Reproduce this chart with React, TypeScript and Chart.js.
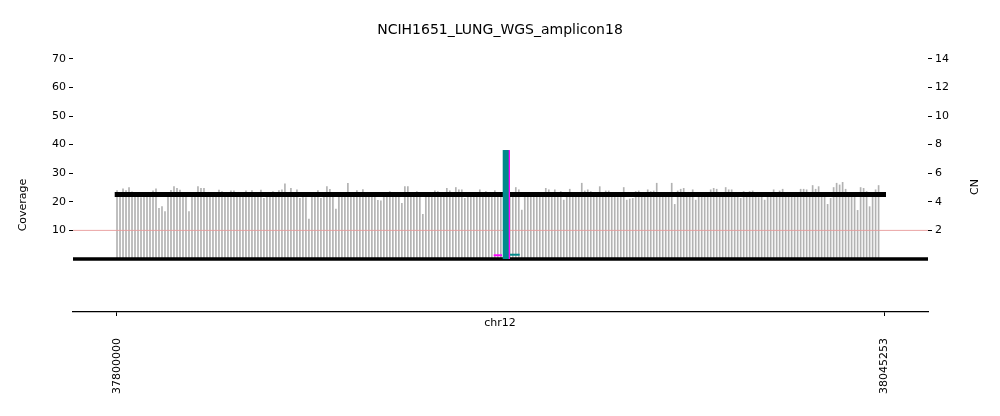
import { useEffect, useRef } from 'react';
import { Chart, registerables } from 'chart.js';

Chart.register(...registerables);

const TITLE = 'NCIH1651_LUNG_WGS_amplicon18';
const CHROM = 'chr12';
const Y_LABEL = 'Coverage';
const Y2_LABEL = 'CN';

const X_MIN = 37786037;
const X_MAX = 38059216;
const X_TICKS = [37800000, 38045253];
const COV_TICKS = [10, 20, 30, 40, 50, 60, 70];
const CN_TICKS = [2, 4, 6, 8, 10, 12, 14];
const COV_MIN = -18.53;
const COV_MAX = 73.43;
const CN_MIN = -3.706;
const CN_MAX = 14.686;

const BIN_START = 37800100;
const BIN_SIZE = 958;
const COVERAGE = [
  23.9, 22.8, 24.5, 23.9, 25.0, 23.5, 22.6, 22.9, 21.5, 22.4,
  22.7, 22.5, 23.8, 24.5, 17.7, 18.3, 16.6, 22.8, 24.0, 25.3,
  24.7, 24.1, 22.6, 22.5, 16.6, 21.9, 22.7, 25.3, 24.7, 24.7,
  22.4, 22.9, 22.6, 22.3, 24.1, 23.6, 22.8, 22.5, 23.8, 23.8,
  22.6, 22.9, 22.4, 23.8, 22.7, 23.9, 22.6, 22.8, 24.1, 21.2,
  22.8, 22.7, 23.6, 22.6, 23.9, 24.2, 26.3, 22.5, 24.7, 22.8,
  24.2, 21.2, 22.7, 21.5, 14.0, 22.6, 22.9, 23.9, 21.2, 22.4,
  25.3, 24.4, 22.7, 17.5, 22.6, 22.9, 22.5, 26.5, 22.8, 22.4,
  23.9, 22.6, 24.3, 22.5, 22.7, 22.4, 22.8, 20.5, 20.3, 22.7,
  22.5, 23.6, 22.8, 22.4, 22.6, 19.5, 25.3, 25.3, 22.6, 22.9,
  23.6, 22.7, 15.6, 21.8, 22.6, 22.9, 23.8, 23.6, 22.5, 22.8,
  24.7, 23.8, 22.4, 25.0, 24.2, 24.2, 21.2, 22.7, 22.9, 21.8,
  22.5, 24.2, 22.6, 23.6, 22.8, 22.4, 23.9, 22.7, 22.5, 22.6,
  22.8, 22.5, 22.9, 25.0, 24.2, 17.1, 22.6, 22.8, 22.4, 22.7,
  22.9, 22.5, 22.6, 24.7, 24.2, 22.8, 24.2, 22.5, 23.6, 20.6,
  22.7, 24.4, 22.6, 22.9, 22.5, 26.5, 23.8, 24.2, 23.6, 22.7,
  22.4, 25.3, 22.8, 23.8, 23.8, 22.6, 22.9, 21.5, 22.5, 25.0,
  20.6, 21.0, 21.2, 23.6, 23.8, 22.7, 22.4, 24.2, 23.6, 23.8,
  26.5, 22.6, 22.8, 22.5, 22.9, 26.5, 19.1, 23.8, 24.4, 24.7,
  22.6, 22.8, 24.2, 20.6, 22.4, 22.7, 22.9, 22.5, 24.2, 24.7,
  24.4, 22.6, 22.8, 25.0, 24.2, 24.2, 22.5, 22.9, 21.2, 23.6,
  22.7, 23.6, 23.8, 22.4, 21.5, 22.8, 20.6, 22.6, 22.9, 24.2,
  22.5, 23.8, 24.4, 22.7, 22.4, 22.8, 22.6, 22.9, 24.4, 24.4,
  24.2, 22.5, 25.7, 24.4, 25.3, 22.7, 22.8, 19.1, 21.2, 25.0,
  26.5, 25.9, 26.8, 24.4, 22.6, 22.9, 22.5, 17.0, 25.0, 24.7,
  23.6, 18.3, 22.7, 24.2, 25.7,
];

const CN_SEG_X = [37799361, 38045795];
const CN_SEG_VALUE = 4.51;
const CN_REF = 2;
const CN_ZERO = 0;

const AMP_X = 37924289;
const AMP_COV = 38.1;
const AMP2_X = 37924700;
const MAGENTA_SEG_X = [37920455, 37923107];
const MAGENTA_SEG_COV = 1.3;
const TEAL_SEG_X = [37925347, 37928765];
const TEAL_SEG_COV = 1.5;

const FONT = '"DejaVu Sans", sans-serif';

const textPlugin = {
  id: 'axisTexts',
  afterDraw(chart: any) {
    const ctx = chart.ctx;
    ctx.save();
    ctx.fillStyle = '#000';
    ctx.font = `11px ${FONT}`;
    ctx.textAlign = 'center';
    ctx.textBaseline = 'middle';
    ctx.fillText(CHROM, 500, 323);
    ctx.translate(23, 205);
    ctx.rotate(-Math.PI / 2);
    ctx.fillText(Y_LABEL, 0, 0);
    ctx.restore();
    ctx.save();
    ctx.fillStyle = '#000';
    ctx.font = `11px ${FONT}`;
    ctx.textAlign = 'center';
    ctx.textBaseline = 'middle';
    ctx.translate(975, 187);
    ctx.rotate(-Math.PI / 2);
    ctx.fillText(Y2_LABEL, 0, 0);
    ctx.restore();
  },
};

function seg(xs: number[], y: number) {
  return [{ x: xs[0], y }, { x: xs[1], y }];
}

export default function App() {
  const ref = useRef<HTMLCanvasElement | null>(null);
  useEffect(() => {
    document.body.style.margin = '0';
    const canvas = ref.current!;
    const bars = COVERAGE.map((v, i) => ({ x: BIN_START + i * BIN_SIZE, y: v }));
    const lineBase = {
      type: 'line' as const,
      pointRadius: 0,
      tension: 0,
      borderCapStyle: 'butt' as const,
      fill: false,
    };
    const chart = new Chart(canvas, {
      type: 'bar',
      data: {
        datasets: [
          {
            type: 'bar',
            data: bars,
            backgroundColor: '#b2b2b2',
            barThickness: 1,
            yAxisID: 'y',
            order: 10,
          } as any,
          { ...lineBase, data: seg([X_MIN, X_MAX], CN_REF), borderColor: '#e69a9a', borderWidth: 0.9, yAxisID: 'y2', order: 8 },
          { ...lineBase, data: seg(CN_SEG_X, CN_SEG_VALUE), borderColor: '#000', borderWidth: 5, yAxisID: 'y2', order: 7 },
          { ...lineBase, data: seg([X_MIN, X_MAX], CN_ZERO), borderColor: '#000', borderWidth: 3.5, yAxisID: 'y2', order: 6 },
          { ...lineBase, data: seg(MAGENTA_SEG_X, MAGENTA_SEG_COV), borderColor: '#ff00ff', borderWidth: 2, yAxisID: 'y', order: 3 },
          { ...lineBase, data: seg(TEAL_SEG_X, TEAL_SEG_COV), borderColor: '#008b8b', borderWidth: 2, yAxisID: 'y', order: 2 },
          { ...lineBase, data: [{ x: AMP2_X, y: 0 }, { x: AMP2_X, y: AMP_COV }], borderColor: '#ff00ff', borderWidth: 6, yAxisID: 'y', order: 1 },
          { ...lineBase, data: [{ x: AMP_X, y: 0 }, { x: AMP_X, y: AMP_COV }], borderColor: '#008b8b', borderWidth: 6, yAxisID: 'y', order: 0 },
        ] as any,
      },
      options: {
        responsive: false,
        animation: false,
        layout: { padding: 0 },
        font: { family: FONT },
        plugins: {
          legend: { display: false },
          tooltip: { enabled: false },
          title: {
            display: true,
            text: TITLE,
            color: '#000',
            font: { family: FONT, size: 14, weight: 'normal', lineHeight: 1.2 },
            padding: { top: 22, bottom: 10.2 },
          },
        },
        scales: {
          x: {
            type: 'linear',
            position: 'bottom',
            min: X_MIN,
            max: X_MAX,
            offset: false,
            afterBuildTicks: (s: any) => { s.ticks = X_TICKS.map((v) => ({ value: v })); },
            afterFit: (s: any) => { s.height = 104; },
            border: { display: true, color: '#000', width: 1.3 },
            grid: { display: true, drawOnChartArea: false, drawTicks: true, tickLength: 4, tickColor: '#000', offset: false },
            ticks: {
              color: '#000',
              font: { family: FONT, size: 11 },
              minRotation: 90,
              maxRotation: 90,
              padding: 22,
              autoSkip: false,
              callback: (v: any) => String(v),
            },
          },
          y: {
            type: 'linear',
            position: 'left',
            min: COV_MIN,
            max: COV_MAX,
            afterBuildTicks: (s: any) => { s.ticks = COV_TICKS.map((v) => ({ value: v })); },
            afterFit: (s: any) => { s.width = 73; },
            border: { display: false },
            grid: { display: true, drawOnChartArea: false, drawTicks: true, tickLength: 4, tickColor: '#000' },
            ticks: { color: '#000', font: { family: FONT, size: 11 }, padding: 3, callback: (v: any) => String(v) },
          },
          y2: {
            type: 'linear',
            position: 'right',
            min: CN_MIN,
            max: CN_MAX,
            afterBuildTicks: (s: any) => { s.ticks = CN_TICKS.map((v) => ({ value: v })); },
            afterFit: (s: any) => { s.width = 72; },
            border: { display: false },
            grid: { display: true, drawOnChartArea: false, drawTicks: true, tickLength: 4, tickColor: '#000' },
            ticks: { color: '#000', font: { family: FONT, size: 11 }, padding: 3, callback: (v: any) => String(v) },
          },
        },
      } as any,
      plugins: [textPlugin],
    });
    return () => chart.destroy();
  }, []);
  return <canvas ref={ref} width={1000} height={416} style={{ display: 'block' }} />;
}
